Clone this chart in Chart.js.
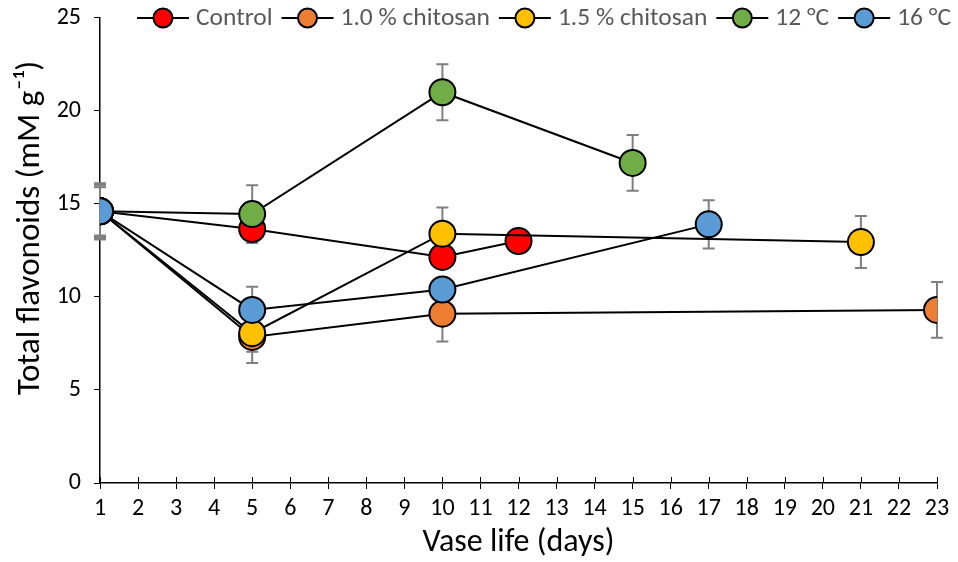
<!DOCTYPE html>
<html>
<head>
<meta charset="utf-8">
<script src="https://cdn.jsdelivr.net/npm/chart.js@4.4.1/dist/chart.umd.min.js"></script>
<style>
  html, body { margin: 0; padding: 0; background: #fff; }
</style>
</head>
<body>
<canvas id="chart" width="958" height="562"></canvas>
<script>
// series names and colours
const seriesNames = ['Control', '1.0 % chitosan', '1.5 % chitosan', '12 °C', '16 °C'];
const seriesColors = ['#ff0000', '#ed7d31', '#ffc000', '#70ad47', '#5b9bd5'];

// days (x) , mean value and error for every series
const controlDays = [1, 5, 10, 12];
const controlVals = [14.6, 13.65, 12.15, 13.0];
const controlErr  = [1.4, 0.6, 0.5, 0.5];

const chit10Days = [1, 5, 10, 23];
const chit10Vals = [14.6, 7.85, 9.1, 9.3];
const chit10Err  = [1.5, 1.4, 1.5, 1.5];

const chit15Days = [1, 5, 10, 21];
const chit15Vals = [14.6, 8.05, 13.4, 12.95];
const chit15Err  = [1.3, 1.0, 1.4, 1.4];

const temp12Days = [1, 5, 10, 15];
const temp12Vals = [14.6, 14.45, 21.0, 17.2];
const temp12Err  = [1.5, 1.55, 1.5, 1.5];

const temp16Days = [1, 5, 10, 17];
const temp16Vals = [14.6, 9.3, 10.4, 13.9];
const temp16Err  = [1.4, 1.25, 0.6, 1.3];

const allDays = [controlDays, chit10Days, chit15Days, temp12Days, temp16Days];
const allVals = [controlVals, chit10Vals, chit15Vals, temp12Vals, temp16Vals];
const allErr  = [controlErr, chit10Err, chit15Err, temp12Err, temp16Err];

const FONT = 'Carlito, Lato, "Liberation Sans", sans-serif';

// error bars + upward half of the x tick marks
const errorBarPlugin = {
    id: 'errorBars',
    beforeDatasetsDraw(chart) {
        const ctx = chart.ctx;
        const yScale = chart.scales.y;
        const xScale = chart.scales.x;
        ctx.save();
        ctx.strokeStyle = '#7f7f7f';
        ctx.lineWidth = 2;
        chart.data.datasets.forEach((ds, di) => {
            const meta = chart.getDatasetMeta(di);
            meta.data.forEach((pt, i) => {
                const e = ds.errors[i];
                const v = ds.data[i].y;
                const top = yScale.getPixelForValue(v + e);
                const bot = yScale.getPixelForValue(v - e);
                ctx.beginPath();
                ctx.moveTo(pt.x, top); ctx.lineTo(pt.x, bot);
                ctx.moveTo(pt.x - 6, top); ctx.lineTo(pt.x + 6, top);
                ctx.moveTo(pt.x - 6, bot); ctx.lineTo(pt.x + 6, bot);
                ctx.stroke();
            });
        });
        // x ticks cross the axis
        ctx.strokeStyle = '#000';
        ctx.lineWidth = 1;
        xScale.ticks.forEach((t) => {
            const px = Math.round(xScale.getPixelForValue(t.value)) + 0.5;
            ctx.beginPath();
            ctx.moveTo(px, xScale.top - 6);
            ctx.lineTo(px, xScale.top);
            ctx.stroke();
        });
        ctx.restore();
    }
};

// legend in Excel style: line - marker - line, then text
const legendPlugin = {
    id: 'excelLegend',
    afterDraw(chart) {
        const ctx = chart.ctx;
        ctx.save();
        ctx.font = '25.5px ' + FONT;
        ctx.textBaseline = 'middle';
        const lineLen = 52, textGap = 7, itemGap = 9;
        const widths = seriesNames.map((n) => lineLen + textGap + ctx.measureText(n).width);
        const total = widths.reduce((a, b) => a + b, 0) + itemGap * (widths.length - 1);
        let x = 544 - total / 2;
        const y = 18;
        seriesNames.forEach((name, i) => {
            ctx.strokeStyle = '#000';
            ctx.lineWidth = 2;
            ctx.beginPath();
            ctx.moveTo(x, y); ctx.lineTo(x + lineLen, y);
            ctx.stroke();
            ctx.beginPath();
            ctx.arc(x + lineLen / 2, y, 9.5, 0, Math.PI * 2);
            ctx.fillStyle = seriesColors[i];
            ctx.fill();
            ctx.stroke();
            ctx.fillStyle = '#595959';
            ctx.fillText(name, x + lineLen + textGap, y + 1);
            x += widths[i] + itemGap;
        });
        ctx.restore();
    }
};

const datasets = seriesNames.map((name, i) => ({
    label: name,
    data: allDays[i].map((d, j) => ({x: d, y: allVals[i][j]})),
    errors: allErr[i],
    borderColor: '#000',
    borderWidth: 2,
    backgroundColor: seriesColors[i],
    pointBackgroundColor: seriesColors[i],
    pointBorderColor: '#000',
    pointBorderWidth: 2,
    pointRadius: 13,
    pointHoverRadius: 13,
    tension: 0,
    fill: false,
    order: seriesNames.length - i
}));

const ctx = document.getElementById('chart').getContext('2d');
const chart = new Chart(ctx, {
    type: 'line',
    data: { datasets: datasets },
    plugins: [errorBarPlugin, legendPlugin],
    options: {
        responsive: false,
        animation: false,
        devicePixelRatio: 1,
        layout: { padding: { top: 10, right: 21, left: 0, bottom: 0 } },
        plugins: {
            legend: { display: false },
            tooltip: { enabled: false }
        },
        scales: {
            x: {
                type: 'linear',
                min: 1,
                max: 23,
                afterFit: (s) => { s.height = 79; },
                ticks: { stepSize: 1, color: '#000', font: { family: FONT, size: 24 }, padding: 6, maxRotation: 0, autoSkip: false },
                grid: { drawOnChartArea: false, color: '#000', tickLength: 6 },
                border: { color: '#000', width: 1.5 },
                title: { display: true, text: 'Vase life (days)', color: '#000', font: { family: FONT, size: 32 }, padding: { top: 0, bottom: 0 } }
            },
            y: {
                min: 0,
                max: 25,
                afterFit: (s) => { s.width = 100; },
                ticks: { stepSize: 5, color: '#000', font: { family: FONT, size: 24, lineHeight: 0.4 }, padding: 13 },
                grid: { drawOnChartArea: false, color: '#000', tickLength: 6 },
                border: { color: '#000', width: 1.5 },
                title: { display: true, text: '      Total flavonoids (mM g⁻¹)', color: '#000', font: { family: FONT, size: 33 }, padding: { top: 11, bottom: 0 } }
            }
        }
    }
});
</script>
</body>
</html>
